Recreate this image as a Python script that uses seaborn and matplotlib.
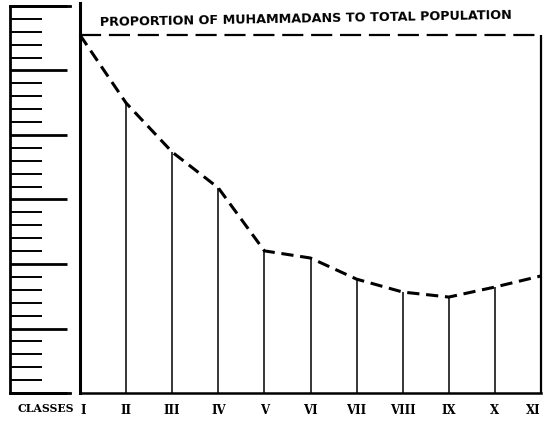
import matplotlib
matplotlib.use("Agg")
import matplotlib.pyplot as plt
import seaborn as sns
import pandas as pd

# values (main panel: total population = 100)
classes = ["I", "II", "III", "IV", "V", "VI", "VII", "VIII", "IX", "X", "XI"]
proportion = [100, 81.0, 67.3, 57.3, 39.7, 37.7, 31.8, 28.2, 26.8, 29.6, 32.7]
total_level = 100
title = "PROPORTION OF MUHAMMADANS TO TOTAL POPULATION"

# the separate ruler scale on the left
ruler_divisions = 30
ruler_major_step = 5

sns.set_style("white")
plt.rcParams["font.family"] = ["DejaVu Sans"]
plt.rcParams["text.color"] = "black"
plt.rcParams["xtick.color"] = "black"
plt.rcParams["ytick.color"] = "black"

df = pd.DataFrame({"pos": range(len(classes)), "value": proportion})

fig = plt.figure(figsize=(5.46, 4.25), dpi=100)

# main panel
ax = fig.add_axes([80 / 546, 32 / 425, 461 / 546, 390 / 425])
top = total_level * 390 / 358
sns.lineplot(data=df, x="pos", y="value", ax=ax, color="black", lw=2.2,
             linestyle=(0, (4, 2.2)), clip_on=False)
ax.vlines(df["pos"][1:-1], 0, df["value"][1:-1], color="black", lw=1.1)
ax.axhline(total_level, color="black", lw=1.6, linestyle=(0, (9.5, 3.5)),
           xmin=0, xmax=1)
ax.vlines(df["pos"].iloc[-1], 0, total_level, color="black", lw=1.6,
          clip_on=False)

ax.set_xlim(0, len(classes) - 1)
ax.set_ylim(0, top)
ax.set_xticks(df["pos"])
ax.set_xticklabels(classes, family="DejaVu Serif", fontweight="bold",
                   fontsize=8.5, color="black")
ax.get_xticklabels()[-1].set_horizontalalignment("right")
ax.get_xticklabels()[0].set_horizontalalignment("left")
ax.tick_params(axis="x", length=0, pad=8)
ax.set_yticks([])
ax.set_xlabel("")
ax.set_ylabel("")
for side in ["top", "right"]:
    ax.spines[side].set_visible(False)
ax.spines["left"].set_linewidth(2.2)
ax.spines["bottom"].set_linewidth(1.8)
for s in ax.spines.values():
    s.set_color("black")

fig.text(306 / 546, 1 - 19 / 425, title, ha="center", va="center",
         fontsize=9.2, fontweight="bold", rotation=1, color="black")
fig.text(46 / 546, 1 - 409 / 425, "CLASSES", ha="center", va="center",
         family="DejaVu Serif", fontweight="bold", fontsize=7.8,
         color="black")

# ruler
rx = fig.add_axes([10 / 546, 32 / 425, 60 / 546, 387 / 425])
rx.set_xlim(0, 1)
rx.set_ylim(0, ruler_divisions)
rx.set_xticks([])
rx.set_yticks(range(0, ruler_divisions + 1, ruler_major_step))
rx.set_yticks(range(0, ruler_divisions + 1), minor=True)
rx.set_yticklabels([])
rx.tick_params(axis="y", which="major", direction="in", length=41, width=2,
               left=True)
rx.tick_params(axis="y", which="minor", direction="in", length=23, width=1.4,
               left=True)
rx.spines["right"].set_visible(False)
for s in ["left", "top", "bottom"]:
    rx.spines[s].set_linewidth(2)
    rx.spines[s].set_color("black")
rx.patch.set_alpha(0)

fig.savefig("out.png", dpi=100)
